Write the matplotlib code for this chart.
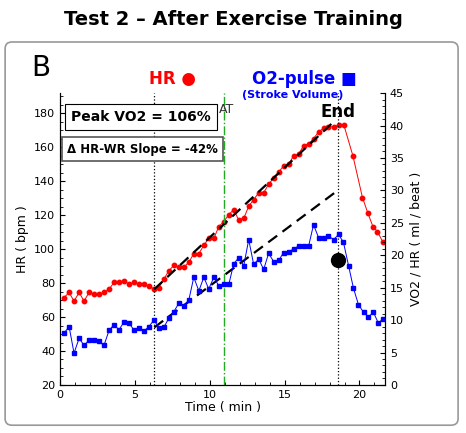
import matplotlib
matplotlib.use("Agg")
import matplotlib.pyplot as plt
from matplotlib.patches import FancyBboxPatch

# heart rate (bpm)
hr_time = [0.27, 0.6, 0.93, 1.27, 1.6, 1.93, 2.27, 2.6, 2.93, 3.27, 3.6, 3.93, 4.27, 4.6,
           4.93, 5.27, 5.6, 5.93, 6.27, 6.6, 6.93, 7.27, 7.6, 7.93, 8.27, 8.6, 8.93, 9.27,
           9.6, 9.93, 10.27, 10.6, 10.93, 11.27, 11.6, 11.93, 12.27, 12.6, 12.93, 13.27,
           13.6, 13.93, 14.27, 14.6, 14.93, 15.27, 15.6, 15.93, 16.27, 16.6, 16.93, 17.27,
           17.6, 17.93, 18.27, 18.6, 18.96, 19.56, 20.2, 20.56, 20.9, 21.2, 21.56]
hr = [71.5, 74.5, 69.4, 74.5, 69.4, 74.5, 73.5, 73.5, 74.5, 76.4, 80.4, 80.4, 81.3, 79.4,
      80.4, 79.4, 79.4, 78.4, 76.4, 77.4, 82.3, 87.4, 90.4, 89.4, 89.4, 92.3, 97.4, 97.4,
      102.3, 106.4, 106.4, 113.3, 116.2, 120.4, 123.3, 117.2, 118.2, 125.3, 129.2, 133.3,
      133.3, 138.2, 142.1, 145.3, 149.2, 150.2, 155.1, 156.0, 161.1, 162.1, 165.1, 169.2,
      171.2, 172.1, 172.1, 173.1, 173.1, 155.1, 130.4, 121.3, 113.3, 110.4, 104.3]

# O2-pulse (ml / beat)
o2_time = [0.27, 0.6, 0.93, 1.27, 1.6, 1.93, 2.27, 2.6, 2.93, 3.27, 3.6, 3.93, 4.27, 4.6,
           4.93, 5.27, 5.6, 5.93, 6.27, 6.6, 6.93, 7.27, 7.6, 7.93, 8.27, 8.6, 8.93, 9.27,
           9.6, 9.93, 10.27, 10.6, 10.93, 11.27, 11.6, 11.93, 12.27, 12.6, 12.93, 13.27,
           13.6, 13.93, 14.27, 14.6, 14.93, 15.27, 15.6, 15.93, 16.27, 16.6, 16.93, 17.27,
           17.6, 17.93, 18.27, 18.6, 18.93, 19.27, 19.6, 19.93, 20.27, 20.6, 20.93, 21.27, 21.6]
o2 = [8.0, 9.0, 4.9, 7.2, 6.1, 6.9, 6.9, 6.7, 6.1, 8.4, 9.3, 8.5, 9.7, 9.5, 8.5, 8.8, 8.3,
      9.0, 10.0, 8.8, 8.9, 10.3, 11.3, 12.6, 12.2, 13.1, 16.6, 14.5, 16.6, 14.8, 16.6, 15.3,
      15.6, 15.5, 18.7, 19.6, 18.4, 22.4, 18.6, 19.4, 17.8, 20.3, 19.0, 19.2, 20.4, 20.5,
      21.0, 21.4, 21.4, 21.4, 24.7, 22.7, 22.6, 23.0, 22.4, 23.2, 22.0, 18.4, 14.9, 12.4,
      11.2, 10.5, 11.2, 9.5, 10.1]

hr_trend_t, hr_trend = [6.29, 18.18], [76.4, 174.3]
o2_trend_t, o2_trend = [6.29, 18.56], [53.9, 134.7]
t_start, t_at, t_end = 6.29, 10.93, 18.56
end_marker = (18.56, 19.3)

fig = plt.figure(figsize=(4.66, 4.33), dpi=100)
fig.patches.append(FancyBboxPatch((0.011, 0.018), 0.972, 0.885, boxstyle="round,pad=0,rounding_size=0.015",
                                  transform=fig.transFigure, fill=False, ec="#999999", lw=1.2))
fig.text(0.5, 0.955, "Test 2 – After Exercise Training", ha="center", va="center",
         fontsize=14, fontweight="bold")

ax = fig.add_axes([0.129, 0.111, 0.697, 0.674])
ax2 = ax.twinx()
for a in (ax, ax2):
    a.spines["top"].set_visible(False)

ax.plot(hr_time, hr, "-o", color="red", ms=3.2, lw=0.7)
ax2.plot(o2_time, o2, "-s", color="blue", ms=3.2, lw=0.7)
ax.plot(hr_trend_t, hr_trend, "k--", lw=1.6, dashes=(5, 3))
ax.plot(o2_trend_t, o2_trend, "k--", lw=1.6, dashes=(5, 3))
ax.axvline(t_start, color="k", ls=":", lw=0.9)
ax.axvline(t_end, color="k", ls=":", lw=0.9)
ax.axvline(t_at, color="#22aa22", ls="-.", lw=1)
ax2.plot(*end_marker, "o", color="k", ms=10)

ax.set_xlim(0, 21.7)
ax.set_ylim(20, 192)
ax2.set_ylim(0, 45)
ax.set_xticks([0, 5, 10, 15, 20])
ax.set_yticks(range(20, 181, 20))
ax2.set_yticks(range(0, 46, 5))
ax.minorticks_on()
ax2.minorticks_on()
ax.tick_params(labelsize=8, direction="in")
ax.tick_params(which="minor", direction="in")
ax2.tick_params(labelsize=8, direction="in")
ax2.tick_params(which="minor", direction="in")
ax.set_xlabel("Time ( min )", fontsize=9, labelpad=1)
ax.set_ylabel("HR ( bpm )", fontsize=9)
ax2.set_ylabel("VO2 / HR ( ml / beat )", fontsize=9)

fig.text(0.068, 0.843, "B", fontsize=20, va="center", ha="left")
fig.text(0.32, 0.818, "HR ●", color="red", fontsize=12, fontweight="bold", va="center")
fig.text(0.54, 0.818, "O2-pulse ■", color="blue", fontsize=12, fontweight="bold", va="center")
fig.text(0.52, 0.781, "(Stroke Volume)", color="blue", fontsize=8, fontweight="bold", va="center")
ax.text(t_at - 0.3, 180, "AT", fontsize=9, color="#333333")
ax.text(17.4, 178, "End", fontsize=12, fontweight="bold")
ax.text(0.75, 178, "Peak VO2 = 106%", fontsize=10, fontweight="bold", va="center",
        bbox=dict(boxstyle="square,pad=0.45", fc="white", ec="black", lw=0.8))
ax.text(0.45, 159, "Δ HR-WR Slope = -42%", fontsize=8.5, fontweight="bold", va="center",
        bbox=dict(boxstyle="square,pad=0.45", fc="white", ec="#555555", lw=1.2))

fig.savefig("out.png", dpi=100)
